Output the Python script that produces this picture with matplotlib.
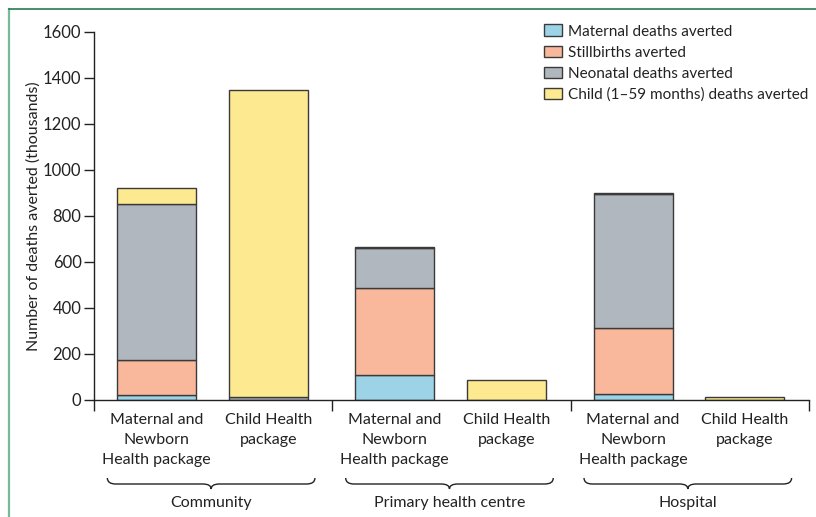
import matplotlib
matplotlib.use("Agg")
import matplotlib.pyplot as plt
from matplotlib.path import Path
from matplotlib.patches import PathPatch, Patch
from matplotlib.lines import Line2D
import matplotlib.transforms as mtransforms
import numpy as np

plt.rcParams['font.family'] = ['Lato', 'DejaVu Sans']

# ---- data (thousands) ----
settings = ["Community", "Primary health centre", "Hospital"]
packages = ["Maternal and\nNewborn\nHealth package", "Child Health\npackage"]
series_names = ["Maternal deaths averted", "Stillbirths averted",
                "Neonatal deaths averted", "Child (1\u201359 months) deaths averted"]
# order of bars: Community MNH, Community CH, PHC MNH, PHC CH, Hospital MNH, Hospital CH
maternal    = [20, 0, 107, 0, 25, 0]
stillbirths = [153, 0, 380, 0, 287, 0]
neonatal    = [680, 12, 175, 0, 582, 0]
child       = [70, 1336, 4, 88, 5, 11]
yticks = [0, 200, 400, 600, 800, 1000, 1200, 1400, 1600]

colors = ["#9dd3e6", "#f9b89b", "#b1b7be", "#fde98f"]
edge = "#3a3a3a"
txt = "#222222"
fs = 11

fig = plt.figure(figsize=(8.16, 5.17), dpi=100)
ax = fig.add_axes([94/816, 1 - 400/517, (809 - 94)/816, (400 - 32)/517])

offsets = [0.262, 0.731]
width = 0.332
xpos = np.array([g + o for g in range(len(settings)) for o in offsets])

bottom = np.zeros(len(xpos))
for vals, c, name in zip([maternal, stillbirths, neonatal, child], colors, series_names):
    v = np.array(vals, dtype=float)
    ax.bar(xpos, v, width=width, bottom=bottom, color=c, edgecolor=edge,
           linewidth=1.0, label=name)
    bottom += v

ax.set_xlim(0, len(settings))
ax.set_ylim(0, 1600)
ax.set_yticks(yticks)
ax.set_yticklabels([str(t) for t in yticks], fontsize=12, color=txt)
ax.tick_params(axis='y', direction='out', length=7, width=1, pad=2, color=txt)

ax.set_xticks(range(len(settings) + 1))
ax.set_xticklabels([])
ax.tick_params(axis='x', which='major', direction='out', length=8, width=1, color=txt)
ax.set_xticks(xpos, minor=True)
ax.set_xticklabels(packages * len(settings), minor=True, fontsize=fs + 0.5,
                   linespacing=1.55, color=txt)
ax.tick_params(axis='x', which='minor', length=0, pad=9)

for s in ["top", "right"]:
    ax.spines[s].set_visible(False)
for s in ["left", "bottom"]:
    ax.spines[s].set_linewidth(1.0)
    ax.spines[s].set_color(txt)

ax.set_ylabel("Number of deaths averted (thousands)", fontsize=11.5, color=txt)
ax.yaxis.set_label_coords((41 - 94) / 715, 0.5)

# braces and group labels
trans = mtransforms.blended_transform_factory(ax.transData, fig.transFigure)
def fy(ypix):
    return 1 - ypix / 517

y_top, y_mid, y_tip = fy(478), fy(484), fy(489)
r = 0.035
for g, name in enumerate(settings):
    x0 = g + offsets[0] - width / 2 - 0.04
    x1 = g + offsets[1] + width / 2 + 0.03
    xc = (x0 + x1) / 2
    verts = [(x0, y_top), (x0, y_mid), (x0 + r, y_mid),
             (xc - r, y_mid),
             (xc, y_mid), (xc, y_tip),
             (xc, y_mid), (xc + r, y_mid),
             (x1 - r, y_mid),
             (x1, y_mid), (x1, y_top)]
    codes = [Path.MOVETO, Path.CURVE3, Path.CURVE3,
             Path.LINETO,
             Path.CURVE3, Path.CURVE3,
             Path.CURVE3, Path.CURVE3,
             Path.LINETO,
             Path.CURVE3, Path.CURVE3]
    patch = PathPatch(Path(verts, codes), transform=trans, fill=False,
                      edgecolor=txt, linewidth=1.0, clip_on=False)
    fig.add_artist(patch)
    fig.text(xc, fy(503), name, transform=trans, ha='center', va='center',
             fontsize=fs + 0.5, color=txt)

# legend
handles = [Patch(facecolor=c, edgecolor=edge, linewidth=1.0) for c in colors]
leg = ax.legend(handles, series_names, loc='upper right', bbox_to_anchor=(1.008, 1.037),
                frameon=False, fontsize=fs, handlelength=1.2, handleheight=0.8,
                handletextpad=0.4, labelspacing=0.45, borderaxespad=0.0)
for t in leg.get_texts():
    t.set_color(txt)

# green frame
fig.add_artist(Line2D([8.5/816, 8.5/816], [0, 1 - 8.5/517], transform=fig.transFigure,
                      color="#78bb98", linewidth=1.6))
fig.add_artist(Line2D([8.5/816, 1], [1 - 8.5/517, 1 - 8.5/517], transform=fig.transFigure,
                      color="#2a7a52", linewidth=1.2))

fig.savefig("out.png", dpi=100)
